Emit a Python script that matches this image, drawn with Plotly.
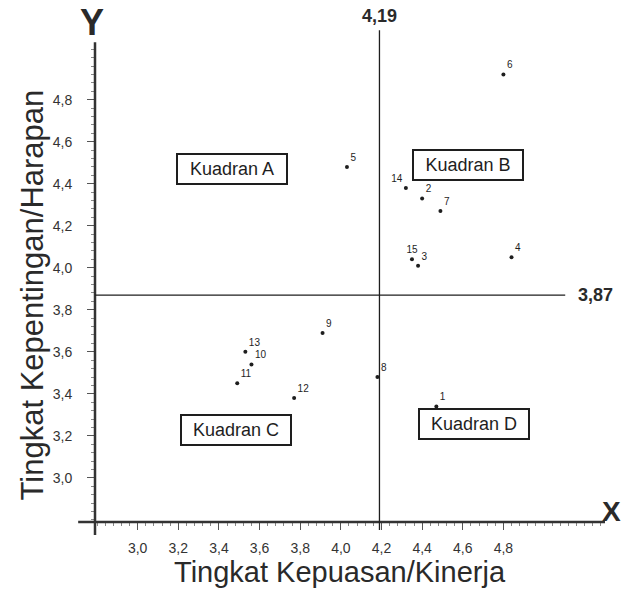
import plotly.graph_objects as go

# ---- data ----
item_labels = ["1", "2", "3", "4", "5", "6", "7", "8", "9", "10", "11", "12", "13", "14", "15"]
kinerja = [4.47, 4.40, 4.38, 4.84, 4.03, 4.80, 4.49, 4.18, 3.91, 3.56, 3.49, 3.77, 3.53, 4.32, 4.35]
harapan = [3.34, 4.33, 4.01, 4.05, 4.48, 4.92, 4.27, 3.48, 3.69, 3.54, 3.45, 3.38, 3.60, 4.38, 4.04]

mean_kinerja = 4.19
mean_harapan = 3.87

x_tickvals = [3.0, 3.2, 3.4, 3.6, 3.8, 4.0, 4.2, 4.4, 4.6, 4.8]
x_ticktext = ["3,0", "3,2", "3,4", "3,6", "3,8", "4,0", "4,2", "4,4", "4,6", "4,8"]
y_tickvals = [3.0, 3.2, 3.4, 3.6, 3.8, 4.0, 4.2, 4.4, 4.6, 4.8]
y_ticktext = ["3,0", "3,2", "3,4", "3,6", "3,8", "4,0", "4,2", "4,4", "4,6", "4,8"]

quadrant_names = ["Kuadran A", "Kuadran B", "Kuadran C", "Kuadran D"]
quadrant_pos = [(3.466, 4.471), (4.627, 4.490), (3.486, 3.229), (4.657, 3.257)]

# ---- styling ----
FONT = "Liberation Sans"
INK = "#1e1e1e"
label_pos = ["top right"] * 15
label_pos[13] = "top left"
label_pos[14] = "top center"

fig = go.Figure()

fig.add_trace(go.Scatter(
    x=kinerja, y=harapan, mode="markers+text",
    text=item_labels, textposition=label_pos,
    textfont=dict(family=FONT, size=10, color=INK),
    marker=dict(size=4, color=INK),
    cliponaxis=False, showlegend=False, hoverinfo="skip",
))

shapes = [
    dict(type="line", xref="paper", yref="paper", x0=-0.033, x1=1.0, y0=0, y1=0,
         line=dict(color="#333", width=2.5)),
    dict(type="line", xref="paper", yref="paper", x0=0, x1=0, y0=-0.027, y1=1.006,
         line=dict(color="#333", width=2.5)),
    dict(type="line", xref="x", yref="paper", x0=mean_kinerja, x1=mean_kinerja,
         y0=-0.017, y1=1.031, line=dict(color=INK, width=1.3)),
    dict(type="line", xref="paper", yref="y", x0=0, x1=0.922,
         y0=mean_harapan, y1=mean_harapan, line=dict(color=INK, width=1.3)),
]

annotations = [
    dict(text="<b>Y</b>", xref="paper", yref="paper", x=-0.006, y=1.048,
         xanchor="center", yanchor="middle", showarrow=False,
         font=dict(family=FONT, size=36, color="#2a2a2a")),
    dict(text="<b>X</b>", xref="paper", yref="paper", x=0.99, y=0.021,
         xanchor="left", yanchor="middle", showarrow=False,
         font=dict(family=FONT, size=28, color="#2a2a2a")),
    dict(text="<b>%s</b>" % str(mean_kinerja).replace(".", ","), xref="x", yref="paper",
         x=mean_kinerja, y=1.035, xanchor="center", yanchor="bottom", showarrow=False,
         font=dict(family=FONT, size=18, color="#2a2a2a")),
    dict(text="<b>%s</b>" % str(mean_harapan).replace(".", ","), xref="paper", yref="y",
         x=0.944, y=mean_harapan, xanchor="left", yanchor="middle", showarrow=False,
         font=dict(family=FONT, size=18, color="#2a2a2a")),
    dict(text="Tingkat Kepuasan/Kinerja", xref="paper", yref="paper",
         x=0.48, y=-0.068, xanchor="center", yanchor="top", showarrow=False,
         font=dict(family=FONT, size=29, color="#2a2a2a")),
    dict(text="Tingkat Kepentingan/Harapan", xref="paper", yref="paper",
         x=-0.1235, y=0.475, xanchor="center", yanchor="middle", textangle=-90,
         showarrow=False, font=dict(family=FONT, size=31, color="#2a2a2a")),
]
for name, (qx, qy) in zip(quadrant_names, quadrant_pos):
    annotations.append(dict(
        text=name, x=qx, y=qy, xref="x", yref="y", showarrow=False,
        width=106, height=26, borderpad=1, bordercolor=INK, borderwidth=2,
        bgcolor="white", font=dict(family=FONT, size=18, color=INK),
    ))

fig.update_layout(
    width=624, height=592,
    margin=dict(l=95, r=19, t=45, b=70),
    paper_bgcolor="white", plot_bgcolor="white",
    shapes=shapes, annotations=annotations,
    xaxis=dict(range=[2.79, 5.30], showgrid=False, zeroline=False, showline=False,
               tickmode="array", tickvals=x_tickvals, ticktext=x_ticktext,
               ticks="outside", ticklen=7, tickwidth=1, tickcolor="#555",
               ticklabelstandoff=6,
               tickfont=dict(family=FONT, size=14, color="#333"),
               minor=dict(ticks="outside", ticklen=3, dtick=0.04, tickcolor="#888", showgrid=False)),
    yaxis=dict(range=[2.79, 5.06], showgrid=False, zeroline=False, showline=False,
               tickmode="array", tickvals=y_tickvals, ticktext=y_ticktext,
               ticks="outside", ticklen=7, tickwidth=1, tickcolor="#555",
               ticklabelstandoff=12,
               tickfont=dict(family=FONT, size=14, color="#333"),
               minor=dict(ticks="outside", ticklen=3, dtick=0.04, tickcolor="#888", showgrid=False)),
)

fig.write_html("out.html", config={"displayModeBar": False},
               post_script="document.body.style.margin='0';document.body.style.overflow='hidden';")
